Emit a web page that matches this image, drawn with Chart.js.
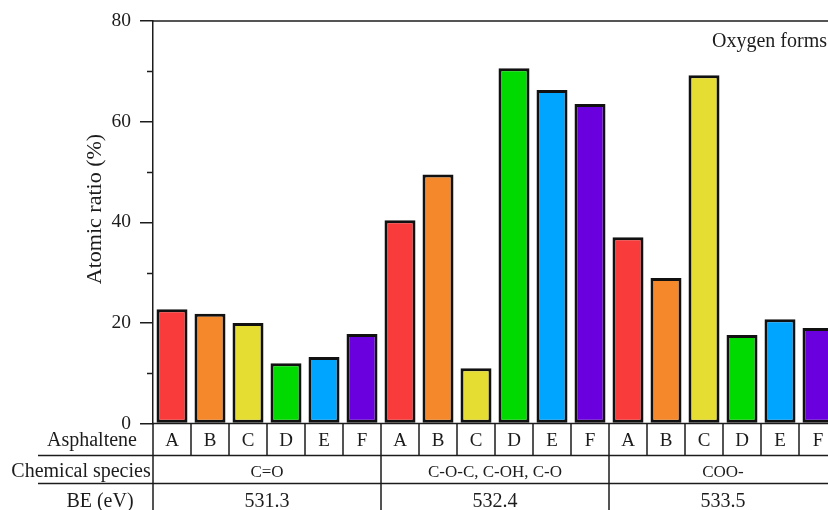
<!DOCTYPE html>
<html>
<head>
<meta charset="utf-8">
<script src="https://cdn.jsdelivr.net/npm/chart.js@4.4.1/dist/chart.umd.min.js"></script>
<style>
  html, body { margin: 0; padding: 0; background: #fff; overflow: hidden; }
  #wrap { width: 828px; height: 510px; overflow: hidden; position: relative; }
  canvas { display: block; }
</style>
</head>
<body>
<div id="wrap"><canvas id="c" width="837" height="510"></canvas></div>
<script>
// Asphaltene samples and the oxygen forms found by XPS deconvolution
const asphaltenes = ['A', 'B', 'C', 'D', 'E', 'F'];
const speciesLabels = ['C=O', 'C-O-C, C-OH, C-O', 'COO-'];
const bindingEnergies = ['531.3', '532.4', '533.5'];

// Atomic ratio (%) of each oxygen form, samples A..F
const carbonyl = [22.7, 21.8, 20.0, 12.0, 13.2, 17.8];
const etherHydroxyl = [40.4, 49.5, 11.0, 70.6, 66.3, 63.5];
const carboxyl = [37.0, 28.9, 69.2, 17.6, 20.7, 19.0];

const yMajorTicks = [0, 20, 40, 60, 80];
const yMinorTicks = [10, 30, 50, 70];
const sampleColors = ['#F93B3B', '#F5882A', '#E6DD33', '#00DA00', '#00A5FF', '#6A00DD'];

const groups = [carbonyl, etherHydroxyl, carboxyl];
const labels = groups.flatMap(() => asphaltenes);
const values = groups.flat();
const barColors = groups.flatMap(() => sampleColors);

const SERIF = '"Liberation Serif", "Times New Roman", serif';
const INK = '#1c1c1c';

// Frame, minor ticks, axis title, annotation and the category table under the bars
const tablePlugin = {
  id: 'categoryTable',
  afterDraw(chart) {
    const { ctx, chartArea: a, scales: { x, y } } = chart;
    const n = labels.length;
    const cell = (x.getPixelForValue(n - 1) - x.getPixelForValue(0)) / (n - 1);
    const edge = i => x.getPixelForValue(i) - cell / 2;
    const r1 = a.bottom, r2 = a.bottom + 32, r3 = a.bottom + 60, r4 = chart.height;

    ctx.save();
    ctx.strokeStyle = INK;
    ctx.lineWidth = 1.5;

    // top frame
    ctx.beginPath();
    ctx.moveTo(a.left, a.top);
    ctx.lineTo(a.right, a.top);
    ctx.stroke();

    // minor ticks
    ctx.beginPath();
    yMinorTicks.forEach(v => {
      const py = Math.round(y.getPixelForValue(v)) + 0.5;
      ctx.moveTo(a.left - 6, py);
      ctx.lineTo(a.left, py);
    });
    ctx.stroke();

    // table rules
    ctx.beginPath();
    ctx.moveTo(a.left - 1, a.bottom);
    ctx.lineTo(a.right, a.bottom);
    ctx.moveTo(38, r2);
    ctx.lineTo(a.right, r2);
    ctx.moveTo(38, r3);
    ctx.lineTo(a.right, r3);
    for (let i = 0; i <= n; i++) {
      const px = edge(i);
      ctx.moveTo(px, r1);
      ctx.lineTo(px, i % 6 === 0 ? r4 : r2);
    }
    ctx.stroke();

    ctx.fillStyle = INK;
    ctx.textBaseline = 'alphabetic';
    ctx.textAlign = 'center';

    // sample letters
    ctx.font = '19px ' + SERIF;
    labels.forEach((lab, i) => ctx.fillText(lab, x.getPixelForValue(i), r1 + 22));

    // chemical species and binding energies
    for (let g = 0; g < 3; g++) {
      const cx = (edge(g * 6) + edge(g * 6 + 6)) / 2;
      ctx.font = '17px ' + SERIF;
      ctx.fillText(speciesLabels[g], cx, r2 + 21);
      ctx.font = '20px ' + SERIF;
      ctx.fillText(bindingEnergies[g], cx, r4 - 3);
    }

    // row headers
    ctx.font = '20px ' + SERIF;
    ctx.fillText('Asphaltene', 92, r1 + 22);
    ctx.fillText('Chemical species', 81, r2 + 21);
    ctx.fillText('BE (eV)', 100, r4 - 3);

    // annotation
    ctx.textAlign = 'right';
    ctx.fillText('Oxygen forms', 827, 47);

    // y axis title
    ctx.font = '22px ' + SERIF;
    ctx.translate(95, 209);
    ctx.rotate(-Math.PI / 2);
    ctx.textAlign = 'center';
    ctx.textBaseline = 'middle';
    ctx.fillText('Atomic ratio (%)', 0, 0);
    ctx.restore();
  }
};

new Chart(document.getElementById('c'), {
  type: 'bar',
  data: {
    labels: labels,
    datasets: [{
      data: values,
      backgroundColor: barColors,
      borderColor: '#111',
      borderWidth: 3,
      borderSkipped: false,
      barPercentage: 31 / 38,
      categoryPercentage: 1
    }]
  },
  options: {
    responsive: false,
    animation: false,
    devicePixelRatio: 1,
    layout: { padding: { left: 0, top: 21, right: 0, bottom: 86.5 } },
    plugins: { legend: { display: false }, tooltip: { enabled: false } },
    scales: {
      x: { display: false, offset: true },
      y: {
        min: 0,
        max: 80,
        afterFit: s => { s.width = 153; },
        afterBuildTicks: s => { s.ticks = yMajorTicks.map(v => ({ value: v })); },
        ticks: {
          color: INK,
          padding: 9,
          font: { family: SERIF, size: 19.5 }
        },
        grid: {
          display: true,
          drawOnChartArea: false,
          drawTicks: true,
          tickLength: 13,
          color: INK,
          lineWidth: 1.5
        },
        border: { display: true, color: INK, width: 1.5 }
      }
    }
  },
  plugins: [tablePlugin]
});
</script>
</body>
</html>
